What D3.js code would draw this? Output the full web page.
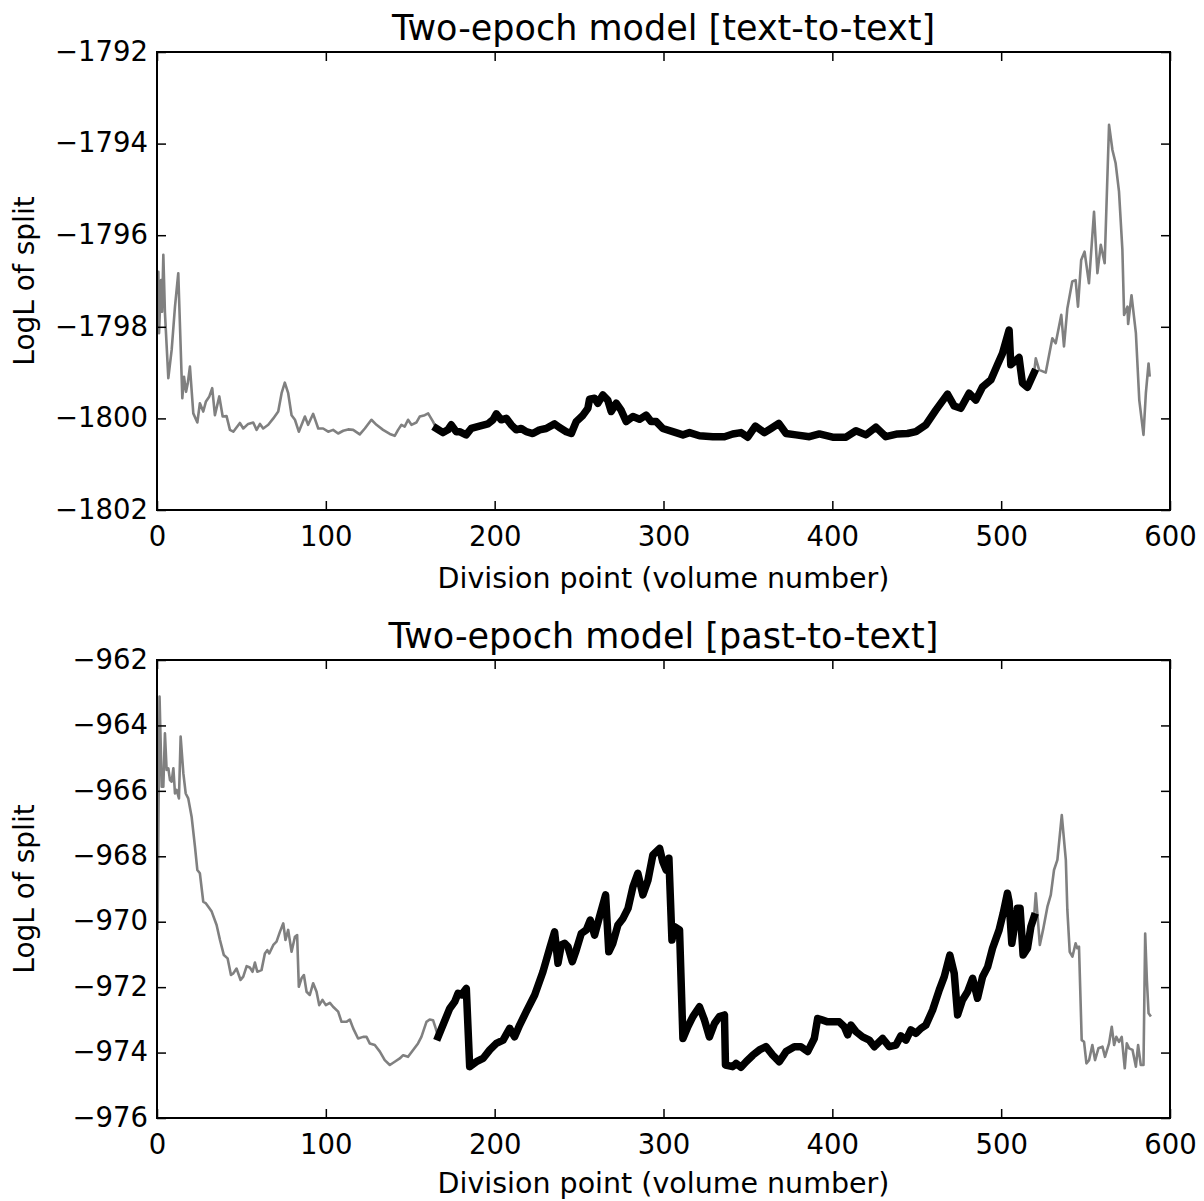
<!DOCTYPE html>
<html lang="en">
<head>
<meta charset="UTF-8">
<title>Two-epoch model</title>
<style>
  body { margin: 0; background: #fff; }
  svg text { font-family: "DejaVu Sans", sans-serif; fill: #000; }
</style>
</head>
<body></body>
<script src="https://cdn.jsdelivr.net/npm/d3@7"></script>
<script>
// ---- data ----
const topVolume = [0, 0.8, 1.2, 2.4, 3.0, 3.75, 4.7, 6.7, 8.7, 10.65, 12.6, 15.0, 16.0, 17.2, 18.2, 19.5, 21.5, 23.9, 25.4, 27.4, 29.0, 31.0, 32.7, 34.3, 36.9, 38.9, 41.2, 43.2, 45.2, 49.1, 51.1, 54.0, 57.0, 59.0, 61.0, 62.9, 65.9, 68.9, 71.8, 73.8, 75.7, 77.7, 79.7, 81.7, 84.0, 87.6, 89.5, 92.5, 95.5, 98.4, 101.4, 104.3, 107.3, 110.3, 113.2, 116.2, 120.1, 123.1, 127.0, 130.0, 133.9, 137.9, 140.8, 142.8, 144.8, 146.7, 148.7, 150.7, 153.6, 155.6, 158.6, 160.6, 163.5, 165.5, 169.4, 172.3, 174.3, 177.2, 179.2, 183.1, 186.1, 191.0, 196.0, 199.0, 201.0, 203.9, 206.9, 209.8, 212.8, 215.7, 218.7, 222.6, 226.6, 230.5, 235.5, 238.4, 242.4, 245.4, 248.3, 252.3, 255.2, 256.2, 259.2, 261.1, 264.1, 267.0, 269.0, 272.0, 274.9, 277.9, 281.9, 285.8, 289.7, 292.7, 295.7, 299.6, 305.5, 311.5, 315.4, 321.3, 329.2, 336.1, 341.0, 345.9, 349.9, 354.4, 359.8, 363.7, 368.3, 372.6, 378.5, 386.4, 392.3, 400.2, 408.1, 414.0, 419.9, 425.8, 431.7, 438.6, 444.5, 449.5, 455.4, 461.3, 468.2, 472.2, 476.1, 481.0, 485.0, 489.0, 493.9, 497.8, 500.8, 504.7, 505.7, 510.6, 512.6, 515.6, 519.5, 520.5, 522.5, 526.4, 530.3, 532.3, 535.6, 537.2, 539.2, 542.1, 544.1, 545.5, 547.4, 549.4, 552.0, 555.0, 557.0, 559.0, 561.3, 563.9, 565.9, 567.8, 569.8, 571.8, 572.8, 574.8, 575.2, 577.2, 579.8, 581.8, 584.3, 585.7, 587.3, 588.0];
const topLogL = [-1797.5, -1796.80, -1798.14, -1796.98, -1797.67, -1796.43, -1797.69, -1799.12, -1798.50, -1797.56, -1796.83, -1799.56, -1799.09, -1799.42, -1799.24, -1798.87, -1799.89, -1800.09, -1799.67, -1799.85, -1799.63, -1799.52, -1799.34, -1799.93, -1799.52, -1799.96, -1799.95, -1800.25, -1800.29, -1800.10, -1800.22, -1800.12, -1800.09, -1800.25, -1800.12, -1800.22, -1800.14, -1800.00, -1799.85, -1799.45, -1799.22, -1799.45, -1799.93, -1800.03, -1800.29, -1799.96, -1800.14, -1799.90, -1800.22, -1800.22, -1800.29, -1800.25, -1800.33, -1800.27, -1800.24, -1800.25, -1800.35, -1800.22, -1800.03, -1800.14, -1800.25, -1800.34, -1800.38, -1800.25, -1800.14, -1800.18, -1800.03, -1800.14, -1800.09, -1799.96, -1799.93, -1799.89, -1800.07, -1800.22, -1800.31, -1800.25, -1800.14, -1800.29, -1800.29, -1800.36, -1800.22, -1800.17, -1800.12, -1800.03, -1799.90, -1800.03, -1800.00, -1800.14, -1800.25, -1800.22, -1800.29, -1800.33, -1800.25, -1800.22, -1800.12, -1800.20, -1800.29, -1800.33, -1800.07, -1799.93, -1799.78, -1799.58, -1799.56, -1799.67, -1799.49, -1799.60, -1799.85, -1799.67, -1799.82, -1800.07, -1799.96, -1800.02, -1799.93, -1800.07, -1800.07, -1800.22, -1800.29, -1800.36, -1800.31, -1800.38, -1800.40, -1800.40, -1800.34, -1800.31, -1800.41, -1800.17, -1800.31, -1800.22, -1800.11, -1800.33, -1800.36, -1800.40, -1800.34, -1800.41, -1800.41, -1800.27, -1800.36, -1800.19, -1800.40, -1800.34, -1800.33, -1800.29, -1800.14, -1799.82, -1799.47, -1799.73, -1799.78, -1799.45, -1799.60, -1799.31, -1799.16, -1798.83, -1798.58, -1798.07, -1798.83, -1798.67, -1799.23, -1799.32, -1799.00, -1798.69, -1798.94, -1799.00, -1798.25, -1798.36, -1797.74, -1798.43, -1797.60, -1797.01, -1796.98, -1797.56, -1796.54, -1796.36, -1797.05, -1795.49, -1796.83, -1796.21, -1796.61, -1793.59, -1794.14, -1794.43, -1795.05, -1796.32, -1797.74, -1797.56, -1797.94, -1797.31, -1798.14, -1799.60, -1800.36, -1799.45, -1798.80, -1799.09];

const bottomVolume = [0.3, 1.5, 2.8, 3.75, 4.7, 5.7, 6.7, 7.7, 8.7, 9.7, 10.65, 11.6, 13.0, 14.0, 15.6, 17.0, 18.5, 20.5, 22.5, 23.9, 25.4, 27.4, 29.0, 30.4, 32.4, 35.3, 37.3, 39.6, 41.8, 43.8, 45.2, 47.1, 49.5, 51.1, 53.1, 55.0, 56.6, 58.0, 59.4, 61.9, 63.9, 65.3, 66.5, 68.9, 70.8, 72.8, 74.8, 76.1, 77.7, 79.7, 81.7, 83.0, 84.0, 85.6, 87.0, 88.6, 90.5, 92.5, 94.5, 96.1, 98.0, 100.0, 102.4, 104.3, 107.3, 109.3, 112.2, 114.2, 116.2, 119.1, 122.1, 124.1, 126.0, 129.0, 132.0, 134.9, 137.9, 140.8, 143.8, 145.8, 148.7, 151.7, 154.6, 156.6, 159.6, 161.5, 163.5, 165.1, 166.5, 173.4, 176.3, 178.3, 180.3, 183.2, 185.2, 189.2, 193.1, 197.1, 201.0, 205.0, 208.9, 211.8, 214.8, 218.7, 223.7, 228.6, 232.6, 235.5, 237.5, 239.5, 241.4, 243.4, 246.0, 248.3, 251.3, 254.3, 256.6, 259.2, 262.1, 265.7, 267.6, 270.0, 273.0, 276.0, 279.0, 281.9, 284.8, 287.8, 290.8, 293.7, 295.7, 297.7, 299.6, 301.6, 303.2, 305.0, 306.5, 309.5, 311.5, 314.4, 317.4, 321.3, 324.3, 327.2, 330.2, 333.1, 336.1, 336.7, 341.0, 343.0, 345.9, 348.9, 352.9, 356.8, 360.7, 364.7, 368.6, 372.6, 377.5, 381.4, 385.4, 389.3, 391.3, 394.3, 397.2, 401.2, 404.1, 407.1, 409.1, 411.0, 414.0, 417.9, 421.9, 424.9, 429.8, 433.7, 437.7, 440.6, 443.6, 446.5, 449.5, 452.5, 455.4, 459.4, 463.3, 466.3, 469.6, 472.2, 474.2, 477.1, 480.1, 483.1, 486.0, 489.0, 492.0, 494.9, 498.8, 501.2, 503.7, 504.7, 506.3, 509.6, 511.2, 513.0, 515.6, 517.6, 519.5, 520.5, 522.9, 524.8, 527.4, 529.4, 531.3, 533.3, 535.9, 538.3, 539.2, 540.6, 542.2, 544.1, 545.1, 546.1, 547.7, 549.1, 550.5, 552.1, 554.0, 555.6, 557.6, 560.0, 561.5, 563.9, 565.5, 566.9, 568.2, 569.8, 571.4, 573.2, 574.4, 575.8, 577.8, 579.8, 581.1, 582.7, 584.3, 585.3, 586.3, 587.3, 588.7];
const bottomLogL = [-970.25, -963.12, -965.87, -965.87, -964.24, -965.36, -965.31, -965.67, -965.72, -965.31, -966.08, -965.97, -966.23, -964.34, -965.46, -966.08, -966.23, -966.79, -967.71, -968.42, -968.52, -969.39, -969.44, -969.54, -969.69, -970.10, -970.56, -971.02, -971.12, -971.63, -971.58, -971.43, -971.78, -971.68, -971.36, -971.40, -971.53, -971.25, -971.53, -971.48, -970.97, -970.87, -970.97, -970.71, -970.61, -970.31, -970.05, -970.56, -970.25, -970.92, -970.46, -970.41, -971.99, -971.73, -971.63, -972.14, -972.24, -971.88, -972.14, -972.55, -972.39, -972.55, -972.48, -972.60, -972.75, -973.06, -973.06, -972.99, -973.26, -973.57, -973.52, -973.52, -973.72, -973.77, -973.97, -974.23, -974.38, -974.28, -974.18, -974.08, -974.13, -973.92, -973.72, -973.52, -973.06, -972.99, -973.01, -973.26, -973.52, -972.65, -972.45, -972.19, -972.24, -972.04, -974.43, -974.28, -974.18, -973.92, -973.72, -973.62, -973.26, -973.52, -973.16, -972.75, -972.24, -971.53, -970.81, -970.31, -971.27, -970.71, -970.66, -970.76, -971.22, -970.87, -970.36, -970.25, -969.95, -970.41, -969.85, -969.18, -970.92, -970.66, -970.10, -969.90, -969.59, -968.93, -968.52, -969.18, -968.73, -967.96, -967.86, -967.76, -968.17, -968.42, -968.06, -970.56, -970.15, -970.25, -973.57, -973.21, -972.90, -972.60, -973.01, -973.52, -973.11, -972.90, -972.85, -974.38, -974.43, -974.33, -974.45, -974.28, -974.08, -973.92, -973.82, -974.08, -974.28, -973.97, -973.82, -973.82, -973.97, -973.57, -972.96, -973.01, -973.06, -973.06, -973.06, -973.21, -973.46, -973.16, -973.36, -973.52, -973.62, -973.82, -973.57, -973.82, -973.77, -973.49, -973.62, -973.31, -973.41, -973.26, -973.16, -972.70, -972.09, -971.68, -971.02, -971.58, -972.85, -972.39, -972.14, -971.73, -972.34, -971.68, -971.38, -970.81, -970.25, -969.74, -969.13, -969.39, -970.66, -969.59, -969.59, -971.02, -970.81, -970.15, -969.85, -969.13, -970.71, -970.25, -969.54, -969.18, -968.42, -968.11, -966.74, -968.11, -969.64, -970.92, -971.07, -970.66, -970.81, -970.76, -973.62, -973.67, -974.33, -974.23, -973.77, -974.23, -973.87, -973.82, -974.13, -973.72, -973.21, -973.77, -973.52, -973.67, -973.52, -974.48, -973.72, -973.87, -973.92, -974.43, -973.77, -974.38, -974.38, -970.36, -971.78, -972.80, -972.90];

// highlighted (black) stretch of division points
const highlightRange = [165.3, 519.6];

const xTicks = [0, 100, 200, 300, 400, 500, 600];
const topYTicks = [-1802, -1800, -1798, -1796, -1794, -1792];
const bottomYTicks = [-976, -974, -972, -970, -968, -966, -964, -962];
const titles = ["Two-epoch model [text-to-text]", "Two-epoch model [past-to-text]"];
const xLabel = "Division point (volume number)";
const yLabel = "LogL of split";

// ---- layout ----
const width = 1204, height = 1201;
const left = 157, right = 1170;
const tickLen = 9;

const svg = d3.select("body").append("svg")
    .attr("width", width)
    .attr("height", height);

const panels = [
    {vol: topVolume, logl: topLogL, yTicks: topYTicks, top: 52, bottom: 510, title: titles[0]},
    {vol: bottomVolume, logl: bottomLogL, yTicks: bottomYTicks, top: 660, bottom: 1118, title: titles[1]}
];

const fmt = d => String(d).replace("-", "\u2212");

panels.forEach((p, i) => {
    const x = d3.scaleLinear().domain([0, 600]).range([left, right]);
    const y = d3.scaleLinear().domain(d3.extent(p.yTicks)).range([p.bottom, p.top]);
    const pts = p.vol.map((v, k) => [v, p.logl[k]]);

    const g = svg.append("g");

    const clipId = "clip" + i;
    svg.append("clipPath").attr("id", clipId)
        .append("rect")
        .attr("x", left).attr("y", p.top)
        .attr("width", right - left).attr("height", p.bottom - p.top);

    const line = d3.line().x(d => x(d[0])).y(d => y(d[1]));

    g.append("path")
        .datum(pts)
        .attr("clip-path", `url(#${clipId})`)
        .attr("d", line)
        .attr("fill", "none")
        .attr("stroke", "#808080")
        .attr("stroke-width", 2.6)
        .attr("stroke-linejoin", "round");

    g.append("path")
        .datum(pts.filter(d => d[0] >= highlightRange[0] && d[0] <= highlightRange[1]))
        .attr("clip-path", `url(#${clipId})`)
        .attr("d", line)
        .attr("fill", "none")
        .attr("stroke", "#000")
        .attr("stroke-width", 7.5)
        .attr("stroke-linejoin", "round")
        .attr("stroke-linecap", "square");

    // ticks on all four sides, pointing inward
    const xb = g.append("g").attr("transform", `translate(0,${p.bottom})`)
        .call(d3.axisBottom(x).tickValues(xTicks).tickSizeInner(-tickLen).tickSizeOuter(0)
            .tickPadding(16).tickFormat(fmt));
    const xt = g.append("g").attr("transform", `translate(0,${p.top})`)
        .call(d3.axisTop(x).tickValues(xTicks).tickSizeInner(-tickLen).tickSizeOuter(0).tickFormat(""));
    const yl = g.append("g").attr("transform", `translate(${left},0)`)
        .call(d3.axisLeft(y).tickValues(p.yTicks).tickSizeInner(-tickLen).tickSizeOuter(0)
            .tickPadding(9).tickFormat(fmt));
    const yr = g.append("g").attr("transform", `translate(${right},0)`)
        .call(d3.axisRight(y).tickValues(p.yTicks).tickSizeInner(-tickLen).tickSizeOuter(0).tickFormat(""));

    [xb, xt, yl, yr].forEach(a => {
        a.select(".domain").remove();
        a.selectAll(".tick line").attr("stroke", "#000").attr("stroke-width", 1.5);
        a.selectAll("text").attr("font-size", 27.5).attr("font-family", "DejaVu Sans, sans-serif").attr("fill", "#000");
    });
    yl.selectAll("text").attr("dy", "0.3em");

    g.append("rect")
        .attr("x", left).attr("y", p.top)
        .attr("width", right - left).attr("height", p.bottom - p.top)
        .attr("fill", "none")
        .attr("stroke", "#000")
        .attr("stroke-width", 2);

    g.append("text")
        .attr("x", (left + right) / 2)
        .attr("y", p.top - 12)
        .attr("text-anchor", "middle")
        .attr("font-size", 35)
        .text(p.title);

    // keep the descenders of the lower label inside the picture
    g.append("text")
        .attr("x", (left + right) / 2)
        .attr("y", Math.min(p.bottom + 78, height - 8))
        .attr("text-anchor", "middle")
        .attr("font-size", 28.5)
        .text(xLabel);

    g.append("text")
        .attr("transform", `translate(34,${(p.top + p.bottom) / 2}) rotate(-90)`)
        .attr("text-anchor", "middle")
        .attr("font-size", 28)
        .text(yLabel);
});
</script>
</html>
